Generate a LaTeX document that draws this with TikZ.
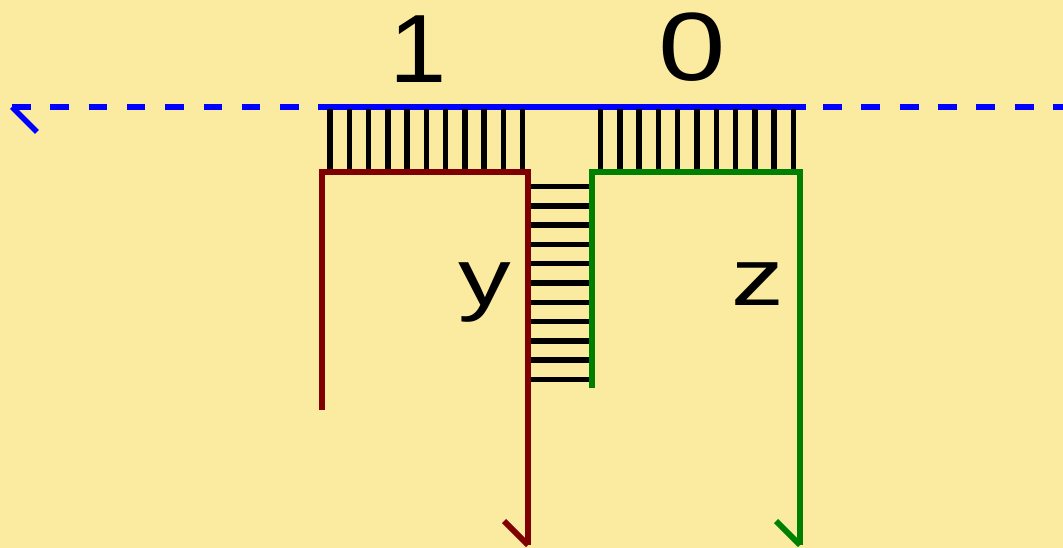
\documentclass[tikz,border=0pt]{standalone}
\usepackage{fontspec}
\setmainfont{Liberation Sans}
\definecolor{bg}{HTML}{FAEBA0}
\definecolor{brownline}{HTML}{800000}
\definecolor{greenline}{HTML}{008000}
\definecolor{blueline}{HTML}{0000FF}
\begin{document}
\begin{tikzpicture}[x=1pt,y=-1pt,
  hatch/.style={line width=5.5pt,black},
  bl/.style={line width=5.5pt,blueline},
  br/.style={line width=6pt,brownline},
  gr/.style={line width=6pt,greenline},
  digit/.style={font=\fontsize{97}{97}\selectfont,anchor=base,inner sep=0pt,xscale=1.25},
  letter/.style={font=\fontsize{81}{81}\selectfont,anchor=base,inner sep=0pt,xscale=1.3}]
\fill[bg] (0,0) rectangle (1063,548);
\useasboundingbox (0,0) rectangle (1063,548);
% dashed line
\draw[bl,dash pattern=on 18.5pt off 19.8pt] (12,107) -- (318,107);
\draw[bl,dash pattern=on 19pt off 19.3pt] (823,107) -- (1070,107);
\draw[bl] (318,107) -- (806,107);
\draw[bl] (12,107) -- (37,132);
% vertical hatches left
\foreach \i in {0,...,10} {
  \draw[hatch] ({330+19.27*\i},109) -- ({330+19.27*\i},170);
}
% vertical hatches right
\foreach \i in {0,...,10} {
  \draw[hatch] ({600.7+19.26*\i},109) -- ({600.7+19.26*\i},170);
}
% horizontal hatches
\foreach \i in {0,...,10} {
  \draw[hatch] (530,{186.7+19.26*\i}) -- (590,{186.7+19.26*\i});
}
% brown
\draw[br] (322,410) -- (322,172) -- (528,172) -- (528,545);
\draw[br] (528,545) -- (504,521);
% green
\draw[gr] (592,388) -- (592,172) -- (800,172) -- (800,545);
\draw[gr] (800,545) -- (776,521);
% labels
\node[digit,xscale=0.85] (one) at (418,83) {1};
\node[digit] (zero) at (692,81) {0};
\node[letter] (y) at (485,305) {y};
\node[letter] (z) at (758,305) {z};
\end{tikzpicture}
\end{document}
